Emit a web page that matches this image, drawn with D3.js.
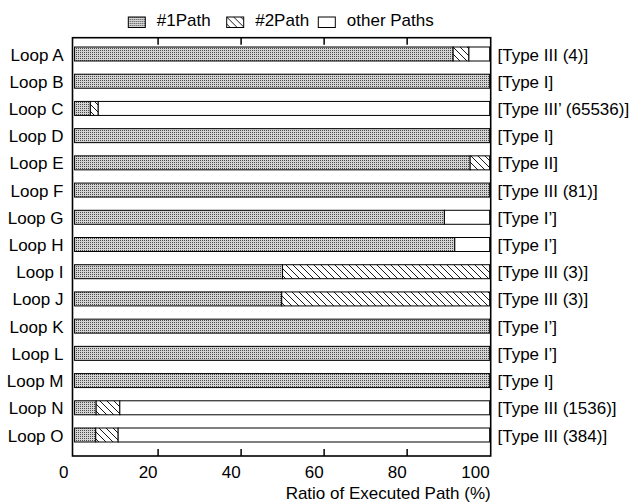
<!DOCTYPE html>
<html lang="en">
<head>
<meta charset="utf-8">
<title>Ratio of Executed Path</title>
<script src="https://d3js.org/d3.v7.min.js"></script>
<style>
  body { margin: 0; background: #fff; }
  text { font-family: "Liberation Sans", Arial, sans-serif; fill: #000; }
</style>
</head>
<body>
<div id="chart"></div>
<script>

// data
var loops = ["Loop A", "Loop B", "Loop C", "Loop D", "Loop E", "Loop F", "Loop G", "Loop H",
             "Loop I", "Loop J", "Loop K", "Loop L", "Loop M", "Loop N", "Loop O"];
var types = ["[Type III (4)]", "[Type I]", "[Type III\u2019 (65536)]", "[Type I]", "[Type II]",
             "[Type III (81)]", "[Type I\u2019]", "[Type I\u2019]", "[Type III (3)]", "[Type III (3)]",
             "[Type I\u2019]", "[Type I\u2019]", "[Type I]", "[Type III (1536)]", "[Type III (384)]"];
var path1 = [91.2, 100, 3.8, 100, 95.3, 100, 89.1, 91.6, 50.1, 49.9, 100, 100, 100, 5.2, 5.1];
var path2 = [3.8, 0, 1.9, 0, 4.7, 0, 0, 0, 49.9, 50.1, 0, 0, 0, 5.7, 5.4];
var other = [5.0, 0, 94.3, 0, 0, 0, 10.9, 8.4, 0, 0, 0, 0, 0, 89.1, 89.5];
var seriesNames = ["#1Path", "#2Path", "other Paths"];
var xTicks = [0, 20, 40, 60, 80, 100];

var width = 637, height = 502;
var plotLeft = 72.5, plotRight = 490.7, plotTop = 37.7, plotBottom = 456;

var svg = d3.select("#chart").append("svg")
  .attr("width", width)
  .attr("height", height);

// fill patterns
var defs = svg.append("defs");
var dots = defs.append("pattern")
  .attr("id", "dots")
  .attr("patternUnits", "userSpaceOnUse")
  .attr("width", 2).attr("height", 2);
dots.append("rect").attr("width", 2).attr("height", 2).attr("fill", "#d4d4d4");
dots.append("rect").attr("width", 1).attr("height", 1).attr("fill", "#4a4a4a");

var hatch = defs.append("pattern")
  .attr("id", "hatch")
  .attr("patternUnits", "userSpaceOnUse")
  .attr("width", 7).attr("height", 7);
hatch.append("rect").attr("width", 7).attr("height", 7).attr("fill", "#fff");
hatch.append("path")
  .attr("d", "M-1,-1 L8,8 M-8,-1 L1,8 M6,-1 L15,8")
  .attr("stroke", "#000")
  .attr("stroke-width", 0.9);

var fills = ["url(#dots)", "url(#hatch)", "#fff"];

var x = d3.scaleLinear().domain([-0.5, 100.25]).range([plotLeft, plotRight]);
var y = d3.scaleLinear().domain([0, loops.length - 1]).range([54, 435]);
var barH = 14;

// stack the three series per loop
var rows = loops.map(function(name, i) {
  var vals = [path1[i], path2[i], other[i]];
  var acc = 0;
  return vals.map(function(v, k) {
    var seg = {i: i, k: k, x0: acc, x1: acc + v};
    acc += v;
    return seg;
  }).filter(function(s) { return s.x1 > s.x0; });
});

svg.append("g")
  .selectAll("g")
  .data(rows)
  .enter().append("g")
  .selectAll("rect")
  .data(function(d) { return d; })
  .enter().append("rect")
  .attr("x", function(d) { return x(d.x0); })
  .attr("y", function(d) { return y(d.i) - barH / 2; })
  .attr("width", function(d) { return x(d.x1) - x(d.x0); })
  .attr("height", barH)
  .attr("fill", function(d) { return fills[d.k]; })
  .attr("stroke", "#000")
  .attr("stroke-width", 1);

// frame
svg.append("rect")
  .attr("x", plotLeft).attr("y", plotTop)
  .attr("width", plotRight - plotLeft).attr("height", plotBottom - plotTop)
  .attr("fill", "none")
  .attr("stroke", "#000")
  .attr("stroke-width", 1.6);

// ticks on top and bottom, pointing inward
var inner = xTicks.filter(function(t) { return t > 0 && t < 100; });
svg.append("g")
  .attr("transform", "translate(0," + plotBottom + ")")
  .call(d3.axisBottom(x).tickValues(inner).tickSize(-7).tickFormat(""))
  .call(function(g) { g.select(".domain").remove(); })
  .selectAll("line").attr("stroke-width", 1.5);
svg.append("g")
  .attr("transform", "translate(0," + plotTop + ")")
  .call(d3.axisTop(x).tickValues(inner).tickSize(-7).tickFormat(""))
  .call(function(g) { g.select(".domain").remove(); })
  .selectAll("line").attr("stroke-width", 1.5);

// tick labels
svg.append("g")
  .selectAll("text")
  .data(xTicks)
  .enter().append("text")
  .attr("x", function(d) { return d === 0 ? x(d) - 6 : x(d); })
  .attr("y", 477.5)
  .attr("text-anchor", "end")
  .attr("font-size", 17)
  .text(function(d) { return d; });

// loop names on the left, types on the right
svg.append("g")
  .selectAll("text")
  .data(loops)
  .enter().append("text")
  .attr("x", 63.5)
  .attr("y", function(d, i) { return y(i) + 6.5; })
  .attr("text-anchor", "end")
  .attr("font-size", 17)
  .text(function(d) { return d; });

svg.append("g")
  .selectAll("text")
  .data(types)
  .enter().append("text")
  .attr("x", 497.5)
  .attr("y", function(d, i) { return y(i) + 6.5; })
  .attr("font-size", 17)
  .text(function(d) { return d; });

// axis title
svg.append("text")
  .attr("x", 490.7)
  .attr("y", 498.5)
  .attr("text-anchor", "end")
  .attr("font-size", 17)
  .text("Ratio of Executed Path (%)");

// legend
var legendX = [128.3, 226.7, 318.3];
var legend = svg.append("g")
  .selectAll("g")
  .data(seriesNames)
  .enter().append("g")
  .attr("transform", function(d, i) { return "translate(" + legendX[i] + ",17)"; });

legend.append("rect")
  .attr("width", 17)
  .attr("height", 10.5)
  .attr("fill", function(d, i) { return fills[i]; })
  .attr("stroke", "#000")
  .attr("stroke-width", 1);

legend.append("text")
  .attr("x", 28.5)
  .attr("y", 8.5)
  .attr("font-size", 17)
  .text(function(d) { return d; });

</script>
</body>
</html>
